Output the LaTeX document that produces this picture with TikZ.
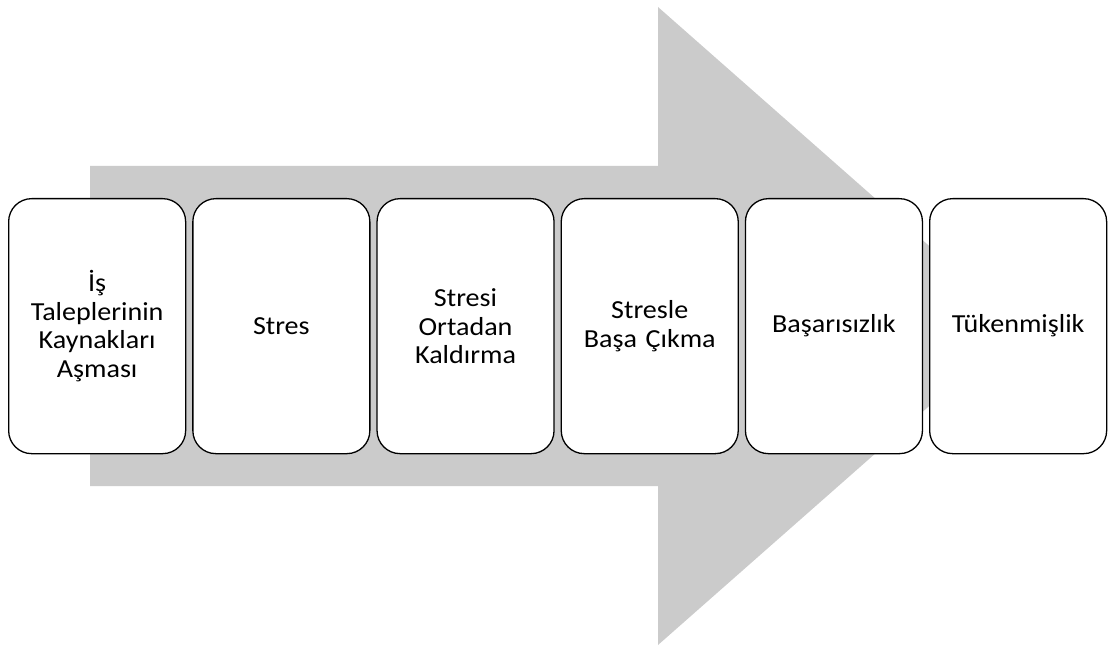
\documentclass[tikz,border=0pt]{standalone}
\usepackage{fontspec}
\setmainfont{Carlito}[FakeStretch=1.08]
\definecolor{arrowgray}{HTML}{CBCBCB}
\tikzset{
  stagebox/.style={draw=black, line width=1.3pt, fill=white, rounded corners=23pt,
    minimum width=177pt, minimum height=255pt, align=center, inner sep=2pt,
    text width=172pt, font=\fontsize{26}{28.5}\selectfont, anchor=north west},
}
\begin{document}
\begin{tikzpicture}[x=1pt,y=-1pt]
\useasboundingbox (0,0) rectangle (1109,650);
\fill[arrowgray] (90,166) -- (658,166) -- (658,7) -- (1020,326) -- (658,645) -- (658,486) -- (90,486) -- cycle;
\node[stagebox] (b1) at (8,198) {İş\\Taleplerinin\\Kaynakları\\Aşması};
\node[stagebox] (b2) at (192.2,198) {Stres};
\node[stagebox] (b3) at (376.4,198) {Stresi\\Ortadan\\Kaldırma};
\node[stagebox] (b4) at (560.6,198) {Stresle\\Başa Çıkma};
\node[stagebox] (b5) at (744.8,198) {Başarısızlık};
\node[stagebox] (b6) at (929,198) {Tükenmişlik};
\end{tikzpicture}
\end{document}
